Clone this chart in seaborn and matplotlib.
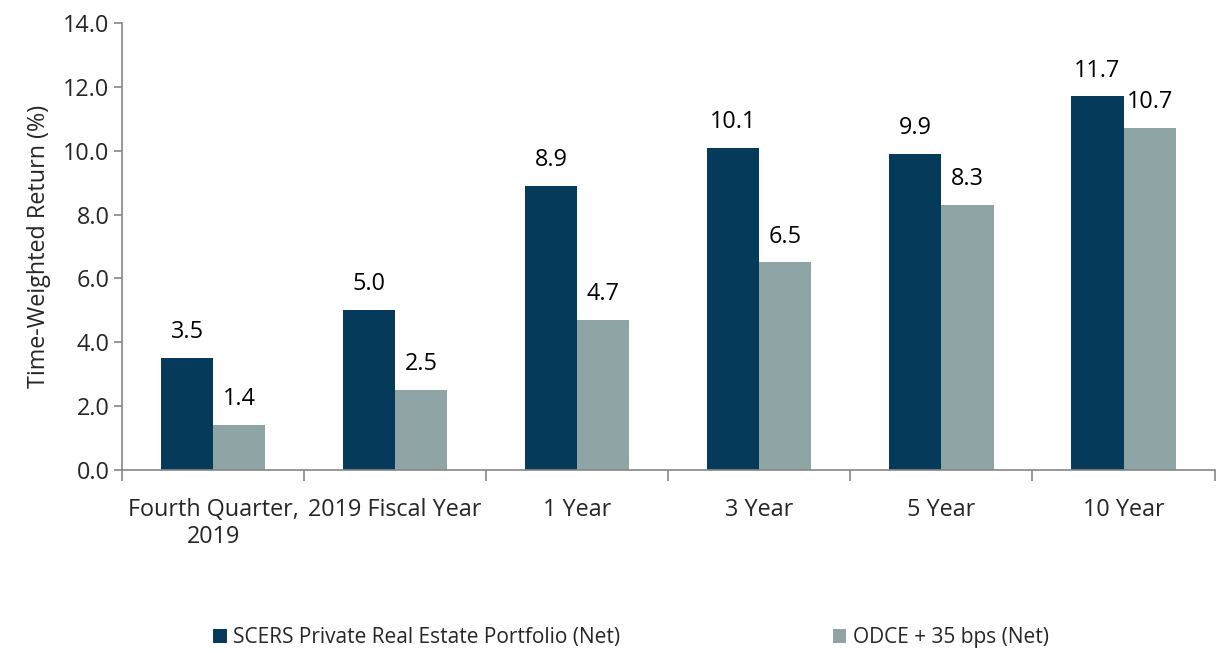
import matplotlib
matplotlib.use("Agg")
import matplotlib.pyplot as plt
import seaborn as sns
import pandas as pd
import numpy as np
from matplotlib.patches import Patch

categories = ["Fourth Quarter,\n2019", "2019 Fiscal Year", "1 Year", "3 Year", "5 Year", "10 Year"]
series_names = ["SCERS Private Real Estate Portfolio (Net)", "ODCE + 35 bps (Net)"]
scers_values = [3.5, 5.0, 8.9, 10.1, 9.9, 11.7]
odce_values = [1.4, 2.5, 4.7, 6.5, 8.3, 10.7]
y_ticks = [0.0, 2.0, 4.0, 6.0, 8.0, 10.0, 12.0, 14.0]
colors = ["#063A5B", "#8EA4A5"]

df = pd.DataFrame({
    "category": categories * 2,
    "series": [series_names[0]] * len(categories) + [series_names[1]] * len(categories),
    "value": scers_values + odce_values,
})

sns.set_theme(style="white")
plt.rcParams["font.family"] = ["Open Sans", "DejaVu Sans"]
FS = 16.8
LFS = 15

fig = plt.figure(figsize=(12.24, 6.53), dpi=100)
ax = fig.add_axes([0.0997, 0.2802, 0.8926, 0.6846])

sns.barplot(data=df, x="category", y="value", hue="series", order=categories,
            hue_order=series_names, palette=colors, width=0.572, gap=0,
            saturation=1, ax=ax, legend=False, linewidth=0)

for cont in ax.containers:
    labels = [f"{b.get_height():.1f}" for b in cont]
    ax.bar_label(cont, labels=labels, padding=10, fontsize=FS, color="#000000")

ax.set_ylim(0, 14)
ax.set_xlim(-0.5, len(categories) - 0.5)
ax.set_yticks(y_ticks)
ax.set_yticklabels([f"{t:.1f}" for t in y_ticks], fontsize=FS)
ax.set_xticks(np.arange(-0.5, len(categories), 1.0))
ax.set_xticklabels([])
ax.set_xticks(np.arange(len(categories)), minor=True)
ax.set_xticklabels(categories, minor=True, fontsize=FS, linespacing=1.2)
ax.tick_params(axis="x", which="major", length=8, width=1.2, color="#868686", direction="out", bottom=True)
ax.tick_params(axis="x", which="minor", length=0, pad=20)
ax.tick_params(axis="y", length=6, width=1.2, color="#868686", direction="out", left=True, pad=3)
ax.set_xlabel("")
ax.set_ylabel("Time-Weighted Return (%)", fontsize=FS, labelpad=9)

for s in ["top", "right"]:
    ax.spines[s].set_visible(False)
for s in ["left", "bottom"]:
    ax.spines[s].set_color("#868686")
    ax.spines[s].set_linewidth(1.2)

handles = [Patch(facecolor=c, edgecolor="none") for c in colors]
fig.legend(handles, series_names, loc="center left", bbox_to_anchor=(0.159, 0.023),
           ncol=2, frameon=False, fontsize=LFS, handlelength=0.65, handleheight=0.65,
           handletextpad=0.3, columnspacing=10.2)

fig.savefig("out.png", dpi=100)
